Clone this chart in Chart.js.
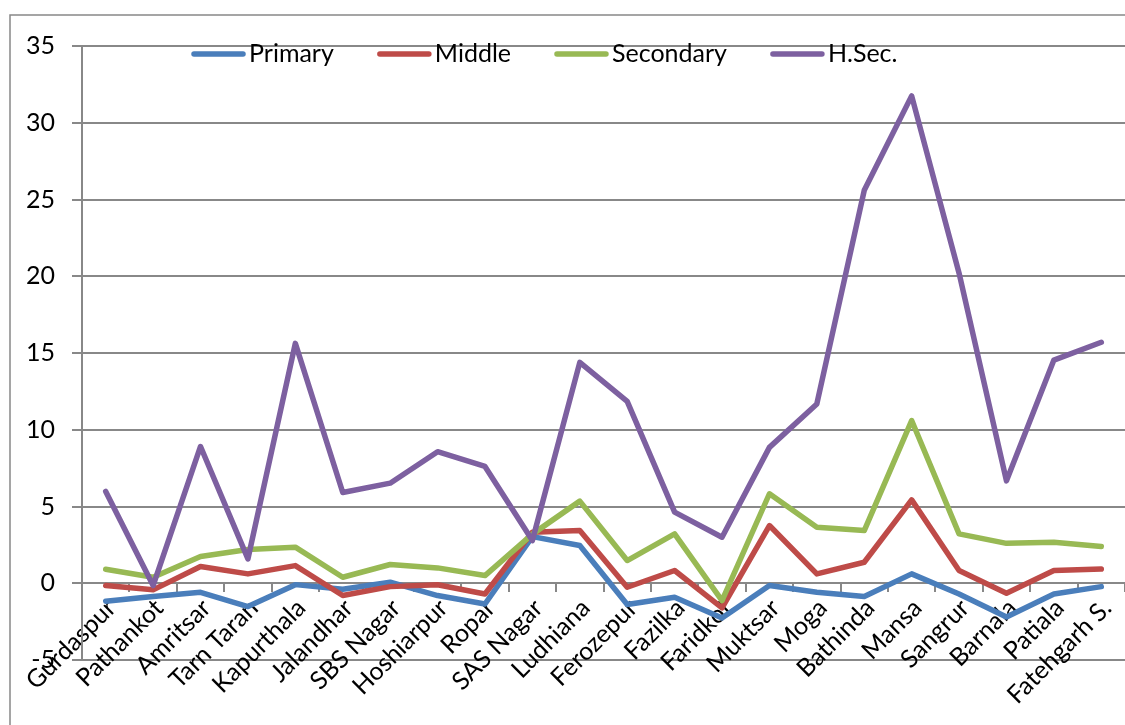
<!DOCTYPE html>
<html>
<head>
<meta charset="utf-8">
<title>District-wise change by level</title>
<script src="https://cdn.jsdelivr.net/npm/chart.js@4.4.1/dist/chart.umd.min.js"></script>
<style>
    body { margin: 0; background: #fff; }
    #wrap { position: relative; width: 1125px; height: 725px; }
</style>
</head>
<body>
<div id="wrap"><canvas id="lineChart"></canvas></div>
<script>
const districts = ['Gurdaspur', 'Pathankot', 'Amritsar', 'Tarn Taran', 'Kapurthala', 'Jalandhar',
    'SBS Nagar', 'Hoshiarpur', 'Ropar', 'SAS Nagar', 'Ludhiana', 'Ferozepur', 'Fazilka', 'Faridkot',
    'Muktsar', 'Moga', 'Bathinda', 'Mansa', 'Sangrur', 'Barnala', 'Patiala', 'Fatehgarh S.'];

const primary = [-1.17, -0.87, -0.59, -1.52, -0.09, -0.39, 0.07, -0.8, -1.35, 3.04, 2.46,
    -1.39, -0.91, -2.26, -0.15, -0.59, -0.87, 0.61, -0.7, -2.2, -0.7, -0.22];
const middle = [-0.15, -0.43, 1.09, 0.61, 1.15, -0.8, -0.22, -0.1, -0.7, 3.33, 3.43,
    -0.26, 0.83, -1.6, 3.76, 0.61, 1.37, 5.43, 0.83, -0.65, 0.83, 0.93];
const secondary = [0.91, 0.39, 1.74, 2.2, 2.35, 0.39, 1.22, 1.0, 0.5, 3.2, 5.35,
    1.48, 3.22, -1.13, 5.83, 3.65, 3.43, 10.6, 3.22, 2.6, 2.67, 2.39];
const hsec = [5.98, -0.15, 8.91, 1.59, 15.63, 5.91, 6.52, 8.57, 7.61, 2.78, 14.39,
    11.85, 4.63, 3.0, 8.85, 11.68, 25.6, 31.75, 20.2, 6.67, 14.54, 15.7];

const yTicks = { min: -5, max: 35, step: 5 };

const FONT = 'Lato';
const GREY = '#888888';

function series(label, data, color, order) {
    return {
        label,
        data,
        borderColor: color,
        backgroundColor: color,
        borderWidth: 5.5,
        borderCapStyle: 'round',
        borderJoinStyle: 'round',
        pointRadius: 0,
        tension: 0,
        fill: false,
        order
    };
}

// outer chart border, only its left and top edges fall inside the page
const framePlugin = {
    id: 'frame',
    beforeDraw(chart) {
        const ctx = chart.ctx;
        ctx.save();
        ctx.strokeStyle = GREY;
        ctx.lineWidth = 1.5;
        ctx.strokeRect(10, 15, 2000, 2000);
        ctx.restore();
    }
};

// legend sits inside the plot, under the top gridline
const insideLegend = {
    id: 'insideLegend',
    afterDraw(chart) {
        const ctx = chart.ctx;
        let x = 192;
        const y = 54;
        ctx.save();
        ctx.font = '25px ' + FONT;
        ctx.textBaseline = 'alphabetic';
        chart.data.datasets.forEach(ds => {
            ctx.strokeStyle = ds.borderColor;
            ctx.lineWidth = 5.5;
            ctx.lineCap = 'round';
            ctx.beginPath();
            ctx.moveTo(x + 2, y);
            ctx.lineTo(x + 51, y);
            ctx.stroke();
            ctx.fillStyle = '#000';
            ctx.fillText(ds.label, x + 57, y + 8);
            x += 57 + ctx.measureText(ds.label).width + 44;
        });
        ctx.restore();
    }
};

const ctxLine = document.getElementById('lineChart').getContext('2d');

new Chart(ctxLine, {
    type: 'line',
    data: {
        labels: districts,
        datasets: [
            series('Primary', primary, '#4a7ebb', 4),
            series('Middle', middle, '#be4b48', 3),
            series('Secondary', secondary, '#98b954', 2),
            series('H.Sec.', hsec, '#7d60a0', 1)
        ]
    },
    options: {
        responsive: true,
        maintainAspectRatio: false,
        animation: false,
        devicePixelRatio: 1,
        layout: { padding: { left: 10, top: 46, right: 0, bottom: 65 } },
        plugins: {
            legend: { display: false },
            tooltip: { enabled: false }
        },
        scales: {
            x: {
                type: 'category',
                position: { y: 0 },
                offset: true,
                grid: {
                    offset: true,
                    drawOnChartArea: false,
                    drawTicks: true,
                    tickLength: 8,
                    color: GREY,
                    lineWidth: 2
                },
                border: { color: GREY, width: 2 },
                ticks: {
                    autoSkip: false,
                    maxRotation: 45,
                    minRotation: 45,
                    padding: 2,
                    labelOffset: 6,
                    color: '#000',
                    font: { family: FONT, size: 25 }
                }
            },
            y: {
                min: yTicks.min,
                max: yTicks.max,
                afterFit: scale => { scale.width = 72; },
                grid: { color: GREY, lineWidth: 2, tickLength: 10 },
                border: { color: GREY, width: 2 },
                ticks: {
                    stepSize: yTicks.step,
                    padding: 17,
                    color: '#000',
                    font: { family: FONT, size: 25 }
                }
            }
        }
    },
    plugins: [framePlugin, insideLegend]
});
</script>
</body>
</html>
